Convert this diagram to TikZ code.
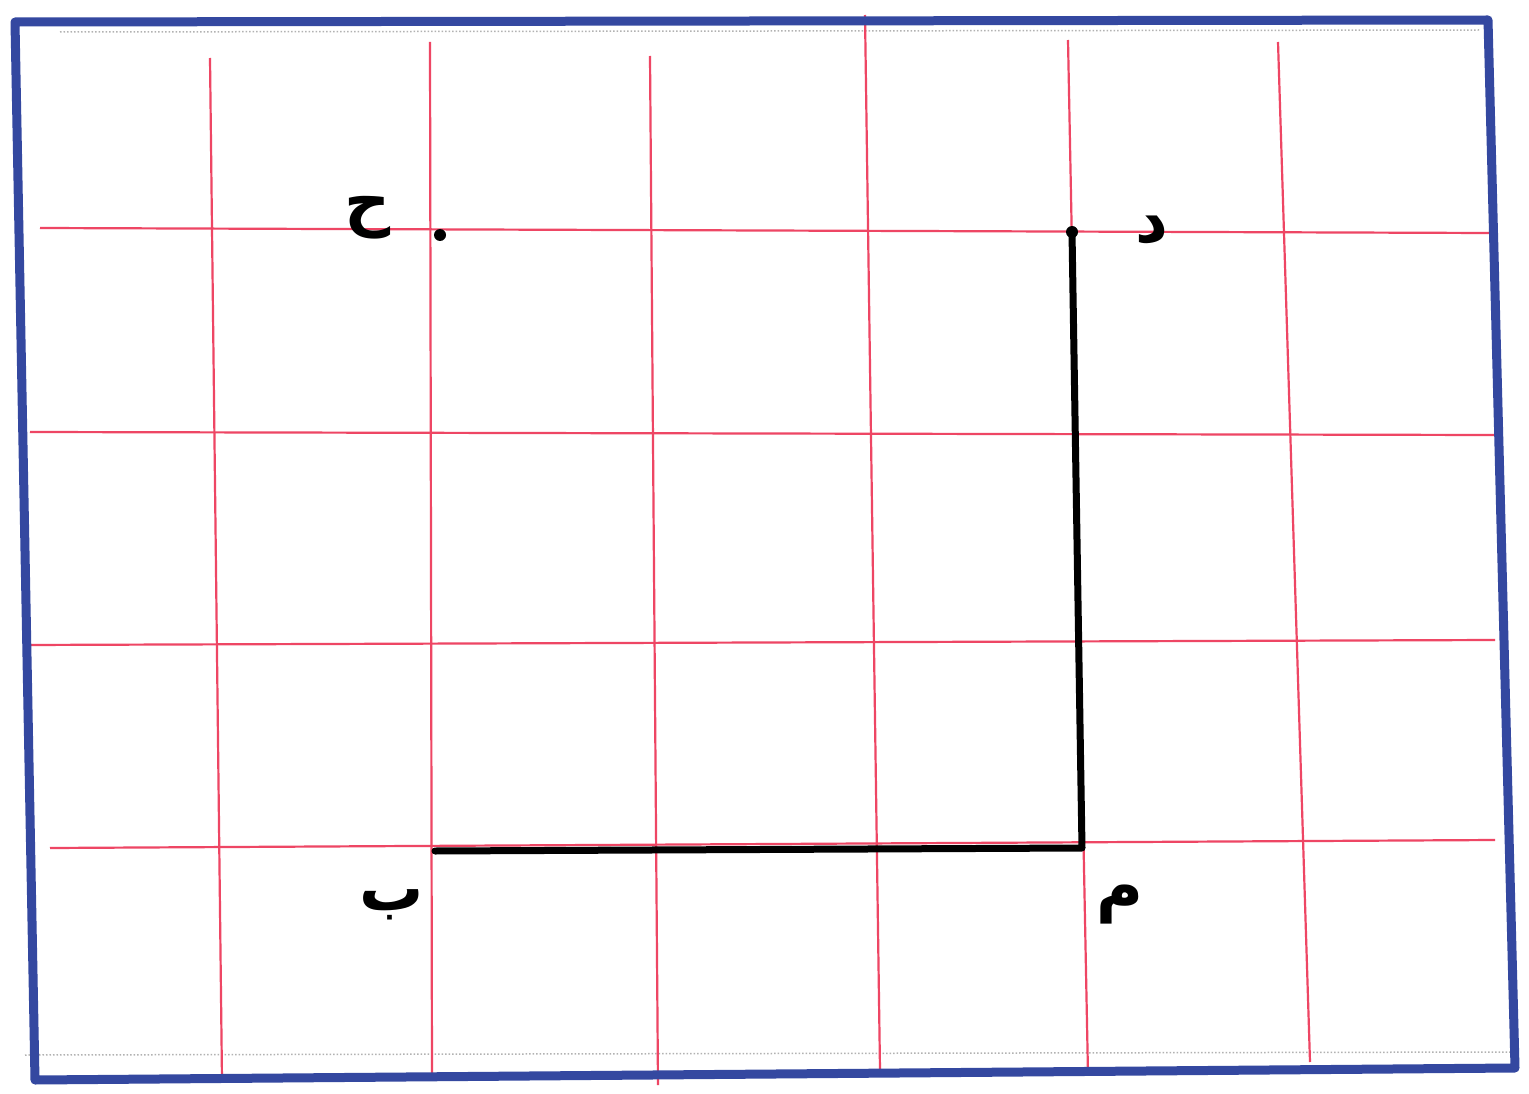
\documentclass[tikz,border=0pt]{standalone}
\usepackage{fontspec}
\newfontfamily\arabicfont[Script=Arabic]{DejaVu Sans}
\TeXXeTstate=1
\definecolor{frameblue}{RGB}{52,72,160}
\definecolor{gridred}{RGB}{238,70,100}
\begin{document}
\begin{tikzpicture}[x=1pt,y=-1pt,
  gridline/.style={draw=gridred, line width=2.2pt},
  dotline/.style={draw=gray!60, line width=1.5pt, dotted},
  frame/.style={draw=frameblue, line width=9pt, line join=round},
  side/.style={draw=black, line width=7pt, line cap=round},
  lbl/.style={font=\arabicfont\fontsize{64}{64}\selectfont\bfseries, inner sep=0pt}]
\useasboundingbox[fill=white] (0,0) rectangle (1529,1094);
% dotted faint lines
\draw[dotline] (25,1055) -- (1510,1052);
\draw[dotline] (60,32) -- (1480,30);
% vertical grid lines
\draw[gridline] (210,58) -- (222,1080);
\draw[gridline] (430,42) -- (432,1080);
\draw[gridline] (650,56) -- (658,1085);
\draw[gridline] (865,15) -- (880,1070);
\draw[gridline] (1068,40) -- (1088,1075);
\draw[gridline] (1278,42) -- (1310,1062);
% horizontal grid lines
\draw[gridline] (40,228) -- (1490,233);
\draw[gridline] (30,432) -- (1495,435);
\draw[gridline] (25,645) -- (1495,640);
\draw[gridline] (50,848) -- (1495,840);
% frame
\coordinate (tl) at (15,22);
\coordinate (tr) at (1488,20);
\coordinate (br) at (1515,1068);
\coordinate (bl) at (35,1080);
\draw[frame] (tl) -- (tr) -- (br) -- (bl) -- cycle;
% points
\coordinate (H) at (440,235);
\coordinate (D) at (1072,232);
\coordinate (M) at (1082,848);
\coordinate (B) at (435,851);
\fill (H) circle (6);
\fill (D) circle (6);
\draw[side, line join=round] (D) -- (M) -- (B);
% labels
\node[lbl] (lH) at (368,218) {\beginR ح\endR};
\node[lbl] (lD) at (1152,230) {\beginR د\endR};
\node[lbl] (lB) at (392,905) {\beginR ب\endR};
\node[lbl] (lM) at (1120,905) {\beginR م\endR};
\end{tikzpicture}
\end{document}
